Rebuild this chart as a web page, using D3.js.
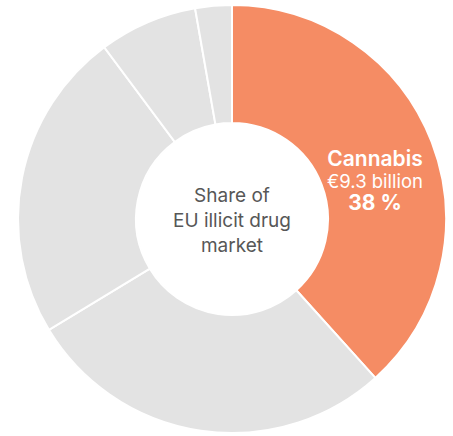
<!DOCTYPE html>
<html>
<head>
<meta charset="utf-8">
<script src="https://cdn.jsdelivr.net/npm/d3@7"></script>
<style>
  body { margin: 0; background: #fff; }
  svg { display: block; font-family: Inter, "Noto Sans", sans-serif; }
</style>
</head>
<body>
<div id="chart"></div>
<script>
// market size (EUR billion), clockwise from the top
var drugs = ["Cannabis", "Heroin", "Cocaine", "Amphetamines", "MDMA"];
var billions = [9.3, 6.8, 5.7, 1.8, 0.67];
var highlight = "Cannabis";
var highlightValue = "€9.3 billion";
var highlightShare = "38 %";
var centerLines = ["Share of", "EU illicit drug", "market"];

var width = 453;
var height = 436;
var cx = 232;
var cy = 219;
var outerR = 214;
var innerR = 96;

var svg = d3.select("#chart")
  .append("svg")
  .attr("width", width)
  .attr("height", height);

var data = drugs.map(function(d, i) {
  return { name: d, value: billions[i] };
});

var pie = d3.pie()
  .value(function(d) { return d.value; })
  .sort(null);

var arc = d3.arc()
  .innerRadius(innerR)
  .outerRadius(outerR);

var g = svg.append("g")
  .attr("transform", "translate(" + cx + "," + cy + ")");

g.selectAll("path")
  .data(pie(data))
  .enter()
  .append("path")
  .attr("d", arc)
  .attr("fill", function(d) {
    return d.data.name === highlight ? "#f58c64" : "#e3e3e3";
  })
  .attr("stroke", "#fff")
  .attr("stroke-width", 2);

// label on the highlighted slice
var lab = g.append("text")
  .attr("text-anchor", "middle")
  .attr("fill", "#fff")
  .attr("transform", "translate(143,-53)");
lab.append("tspan").attr("x", 0).attr("y", 0)
  .attr("font-size", 21).attr("font-weight", 600).text(highlight);
lab.append("tspan").attr("x", 0).attr("y", 22)
  .attr("font-size", 18.5).text(highlightValue);
lab.append("tspan").attr("x", 0).attr("y", 44)
  .attr("font-size", 21).attr("font-weight", 700)
  .text(highlightShare);

// centre text
g.append("text")
  .attr("text-anchor", "middle")
  .attr("fill", "#575757")
  .attr("font-size", 19)
  .selectAll("tspan")
  .data(centerLines)
  .enter()
  .append("tspan")
  .attr("x", 0)
  .attr("y", function(d, i) { return -17 + i * 25; })
  .text(function(d) { return d; });
</script>
</body>
</html>
